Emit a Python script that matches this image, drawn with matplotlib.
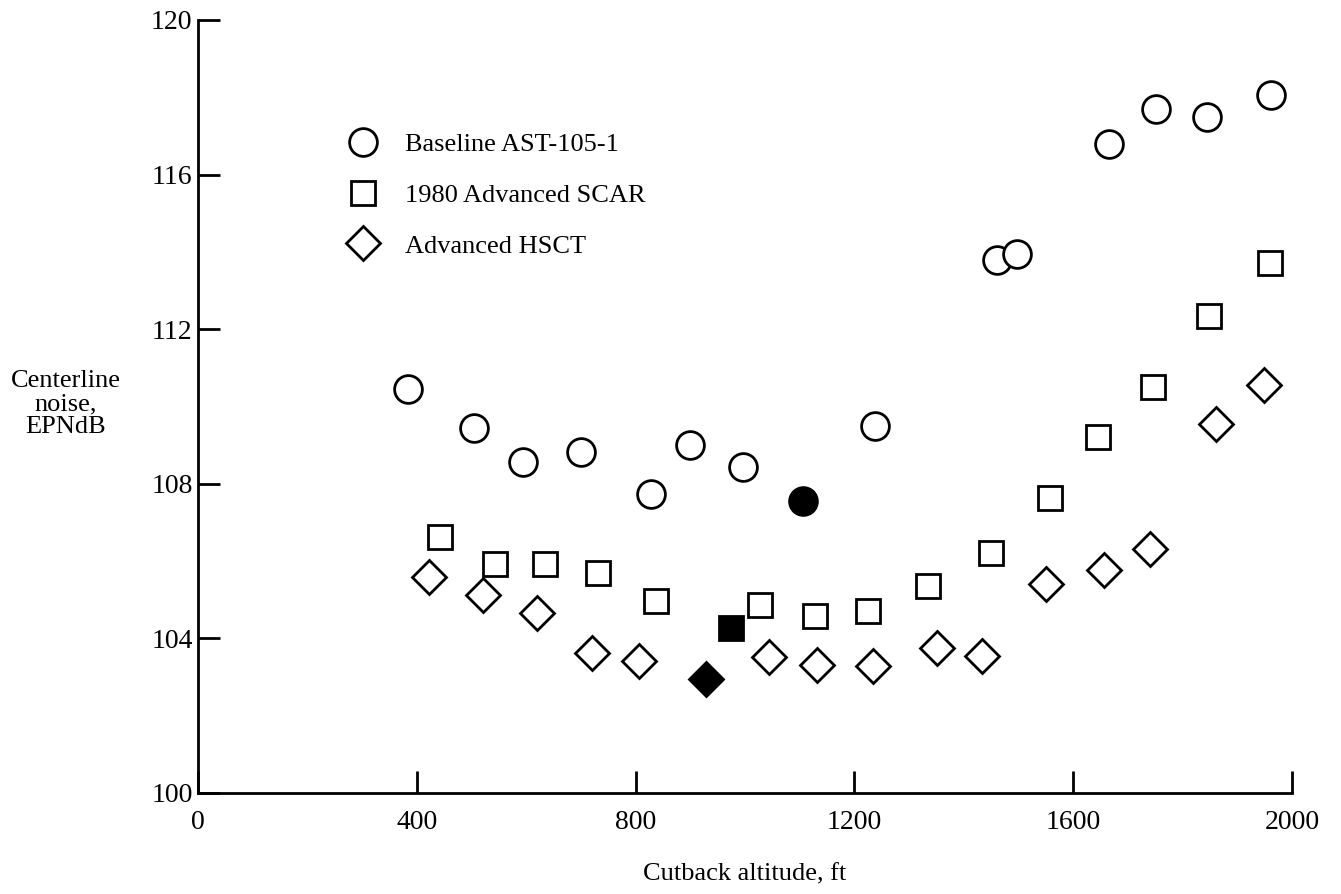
import matplotlib
matplotlib.use("Agg")
import matplotlib.pyplot as plt

# noise at the centerline vs cutback altitude
baseline_x = [383, 504, 594, 700, 828, 899, 997, 1238, 1461, 1497, 1665, 1752, 1845, 1962]
baseline_y = [110.45, 109.44, 108.56, 108.81, 107.73, 109.0, 108.44, 109.5,
              113.8, 113.95, 116.8, 117.7, 117.5, 118.06]

scar_x = [443, 543, 635, 731, 837, 1028, 1127, 1225, 1334, 1449, 1557, 1646, 1745, 1848, 1960]
scar_y = [106.62, 105.92, 105.92, 105.69, 104.97, 104.86, 104.58, 104.71,
          105.36, 106.21, 107.63, 109.2, 110.5, 112.34, 113.7]

hsct_x = [423, 520, 620, 720, 806, 1043, 1132, 1234, 1351, 1433, 1551, 1657, 1741, 1861, 1949]
hsct_y = [105.59, 105.12, 104.66, 103.63, 103.42, 103.52, 103.31, 103.29,
          103.75, 103.54, 105.41, 105.77, 106.31, 109.55, 110.56]

# filled symbols (one per configuration)
opt_x = [1106, 974, 928]
opt_y = [107.56, 104.27, 102.95]

labels = ["Baseline AST-105-1", "1980 Advanced SCAR", "Advanced HSCT"]
xticks = [0, 400, 800, 1200, 1600, 2000]
yticks = [100, 104, 108, 112, 116, 120]

plt.rcParams['font.family'] = ['Liberation Serif', 'DejaVu Serif']
plt.rcParams['font.size'] = 19

fig = plt.figure(figsize=(13.41, 8.94), dpi=100)
ax = fig.add_axes([0.1477, 0.113, 0.8158, 0.8647])

mk = dict(linestyle='none', color='black', markeredgecolor='black', markeredgewidth=2)
ax.plot(baseline_x, baseline_y, marker='o', markersize=20, markerfacecolor='white', label=labels[0], **mk)
ax.plot(scar_x, scar_y, marker='s', markersize=17.5, markerfacecolor='white', label=labels[1], **mk)
ax.plot(hsct_x, hsct_y, marker='D', markersize=17, markerfacecolor='white', label=labels[2], **mk)

ax.plot(opt_x[0], opt_y[0], marker='o', markersize=20, markerfacecolor='black', **mk)
ax.plot(opt_x[1], opt_y[1], marker='s', markersize=17.5, markerfacecolor='black', **mk)
ax.plot(opt_x[2], opt_y[2], marker='D', markersize=17, markerfacecolor='black', **mk)

ax.set_xlim(0, 2000)
ax.set_ylim(100, 120)
ax.set_xticks(xticks)
ax.set_yticks(yticks)
ax.tick_params(axis='both', direction='in', width=2, color='black', labelsize=20)
ax.tick_params(axis='y', length=16, pad=4)
ax.tick_params(axis='x', length=16, pad=12)

for s in ['top', 'right']:
    ax.spines[s].set_visible(False)
for s in ['left', 'bottom']:
    ax.spines[s].set_linewidth(2)

ax.set_xlabel("Cutback altitude, ft", fontsize=19, labelpad=21)
ax.set_ylabel("Centerline\nnoise,\nEPNdB", rotation=0, fontsize=19,
              ha='center', va='center', multialignment='center', linespacing=1.05)
ax.yaxis.set_label_coords(-0.1207, 0.503)

ax.legend(loc='upper left', bbox_to_anchor=(0.1325, 0.854), frameon=False,
          numpoints=1, handlelength=1.5, handletextpad=0.83, labelspacing=1.03,
          borderpad=0, borderaxespad=0, fontsize=19)

fig.savefig("out.png", dpi=100, facecolor='white')
